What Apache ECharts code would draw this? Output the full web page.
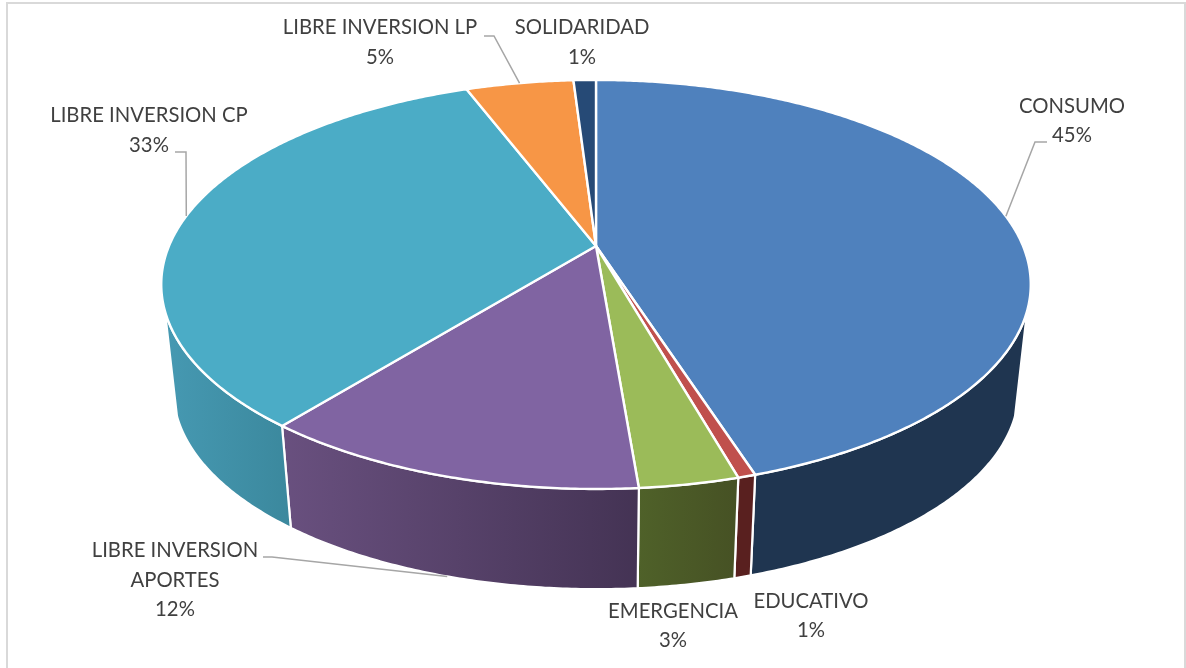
<!DOCTYPE html>
<html>
<head>
<meta charset="utf-8">
<script src="https://cdn.jsdelivr.net/npm/echarts@6/dist/echarts.min.js"></script>
<style>html,body{margin:0;padding:0;background:#fff}#c{width:1186px;height:668px}</style>
</head>
<body>
<div id="c"></div>
<script>
// Data
const categories = ['CONSUMO','EDUCATIVO','EMERGENCIA','LIBRE INVERSION\nAPORTES','LIBRE INVERSION CP','LIBRE INVERSION LP','SOLIDARIDAD'];
const shares = [45.05, 0.55, 3.1, 12.1, 33.4, 4.8, 1.0];

// Styles
const topColors = ['#4f81bd','#c0504d','#9bbb59','#8064a2','#4bacc6','#f79646','#264a76'];
const sideLeft  = ['#1f3550','#59201f','#4f6129','#69507f','#4699b2','#b06a2e','#1a3350'];
const sideRight = ['#1f3550','#59201f','#465124','#443354','#3b889d','#b06a2e','#1a3350'];
// Label layout: text centre, leader bend points (leader starts at slice midpoint)
const labelCentres = [[1072,121],[811,616],[673,626],[175,580],[149,130.5],[380,42.5],[582,42.5]];
const leaderBends = [[[1035,142],[1047,142]],null,null,[[272,557],[263,557]],[[186,152],[175,152]],[[494,36],[484,36]],null];

// Geometry: perspective projection of a cylinder
const CX = 596, TOPY = 246, BOTY = 353, A = 427, B = 197.3, Q = 0.188, BOTSCALE = 0.972;
const VIS_FROM = 108, VIS_TO = 252;
const total = shares.reduce((a,b)=>a+b,0);
function proj(deg, plane){
  const t = deg*Math.PI/180, u = Math.sin(t), v = -Math.cos(t), w = 1 - Q*v;
  const s = plane === 'bottom' ? BOTSCALE : 1;
  return [CX + s*A*u/w, (plane === 'bottom' ? BOTY : TOPY) + s*B*v/w];
}
function arc(a0,a1,plane){
  const pts = [], n = Math.max(2, Math.ceil(Math.abs(a1-a0)/0.5));
  for(let i=0;i<=n;i++) pts.push(proj(a0+(a1-a0)*i/n, plane));
  return pts;
}
function renderItem(params, api){
  const i = params.dataIndex;
  let before = 0;
  for(let k=0;k<i;k++) before += shares[k];
  const val = api.value(0);
  const a0 = before/total*360, a1 = (before+val)/total*360, mid = (a0+a1)/2;
  const children = [];
  const s0 = Math.max(a0,VIS_FROM), s1 = Math.min(a1,VIS_TO);
  if(s1 > s0){
    const top = arc(s0,s1,'top'), bot = arc(s0,s1,'bottom');
    const xs = top.concat(bot).map(p=>p[0]);
    const xl = Math.min.apply(null,xs), xr = Math.max.apply(null,xs);
    children.push({
      type:'polygon', z2:1,
      shape:{points: top.concat(bot.slice().reverse())},
      style:{
        fill:{type:'linear',x:xl,y:0,x2:xr,y2:0,global:true,
          colorStops:[{offset:0,color:sideLeft[i]},{offset:1,color:sideRight[i]}]},
        stroke:'#fff',lineWidth:2.2,lineJoin:'round'
      }
    });
  }
  children.push({
    type:'polygon', z2:2,
    shape:{points:[[CX,TOPY]].concat(arc(a0,a1,'top'))},
    style:{fill:topColors[i],stroke:'#fff',lineWidth:2.4,lineJoin:'round'}
  });
  const c = labelCentres[i];
  children.push({
    type:'text', z2:4,
    style:{
      text: categories[i]+'\n'+Math.round(val)+'%',
      x:c[0],y:c[1],align:'center',verticalAlign:'middle',
      font:'20.3px Lato',lineHeight:29.5,fill:'#404040'
    }
  });
  if(leaderBends[i]){
    const anchor = proj(mid, (mid>VIS_FROM && mid<VIS_TO) ? 'bottom' : 'top');
    children.push({
      type:'polyline', z2:3,
      shape:{points:[anchor].concat(leaderBends[i])},
      style:{fill:null,stroke:'#a6a6a6',lineWidth:1.5}
    });
  }
  return {type:'group',children};
}
const chart = echarts.init(document.getElementById('c'));
chart.setOption({
  animation:false,
  backgroundColor:'#fff',
  graphic:[{type:'rect',shape:{x:7,y:3,width:1178,height:700},style:{fill:null,stroke:'#d9d9d9',lineWidth:2},silent:true}],
  series:[{
    type:'custom',
    coordinateSystem:'none',
    renderItem,
    data:shares.map((v,i)=>({name:categories[i],value:[v]}))
  }]
});
</script>
</body>
</html>
